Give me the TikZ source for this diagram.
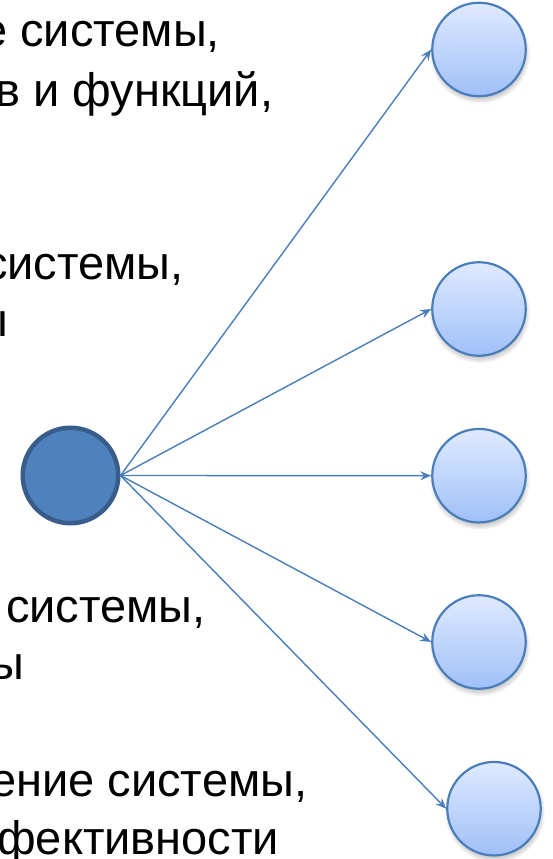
\documentclass[tikz,border=0pt]{standalone}
\usepackage{fontspec}
\setmainfont{Liberation Sans}
\usepackage{xcolor}
\usetikzlibrary{arrows.meta}

\definecolor{hubfill}{HTML}{4F81BD}
\definecolor{hubline}{HTML}{385D8A}
\definecolor{leafline}{HTML}{4A7EBB}
\definecolor{leaftop}{HTML}{DFEAFF}
\definecolor{leafbottom}{HTML}{A0C0F8}

\begin{document}
\begin{tikzpicture}[x=1pt, y=1pt,
    hub/.style={circle, fill=hubfill, draw=hubline, line width=4.5pt, minimum size=95.5pt, inner sep=0pt},
    leaf/.style={circle, top color=leaftop, bottom color=leafbottom, draw=leafline, line width=2.2pt, minimum size=93.5pt, inner sep=0pt},
    ray/.style={draw=leafline, line width=1.4pt, -{Stealth[length=11pt, width=9pt, inset=4pt]}},
    txt/.style={anchor=base west, inner sep=0pt, font=\fontsize{47}{56}\selectfont}]
    \useasboundingbox (0,0) rectangle (553,859);
    \clip (0,0) rectangle (553,859);

    \node[txt] (a1) at (-19,812) {е системы,};
    \node[txt] (a2) at (-5,752) {в и функций,};
    \node[txt] (b1) at (-16,579) {системы,};
    \node[txt] (b2) at (-26,522) {ы};
    \node[txt] (c1) at (6,236) {системы,};
    \node[txt] (c2) at (-10,179) {ы};
    \node[txt] (d1) at (-10,62) {ение системы,};
    \node[txt] (d2) at (-3,5) {фективности};

    \node[hub] (hub) at (70.5,383.5) {};

    \foreach \n/\x/\y in {1/479/809.5, 2/479/550, 3/479/383.3, 4/479/217, 5/494/50.3} {
        \foreach \r in {50,49,...,44}
            \fill[black, opacity=0.035] (\x+1,\y-4) circle (\r pt);
        \node[leaf] (leaf\n) at (\x,\y) {};
    }

    \foreach \n in {1,...,5}
        \draw[ray] (hub.east) -- (leaf\n.west);
\end{tikzpicture}
\end{document}
